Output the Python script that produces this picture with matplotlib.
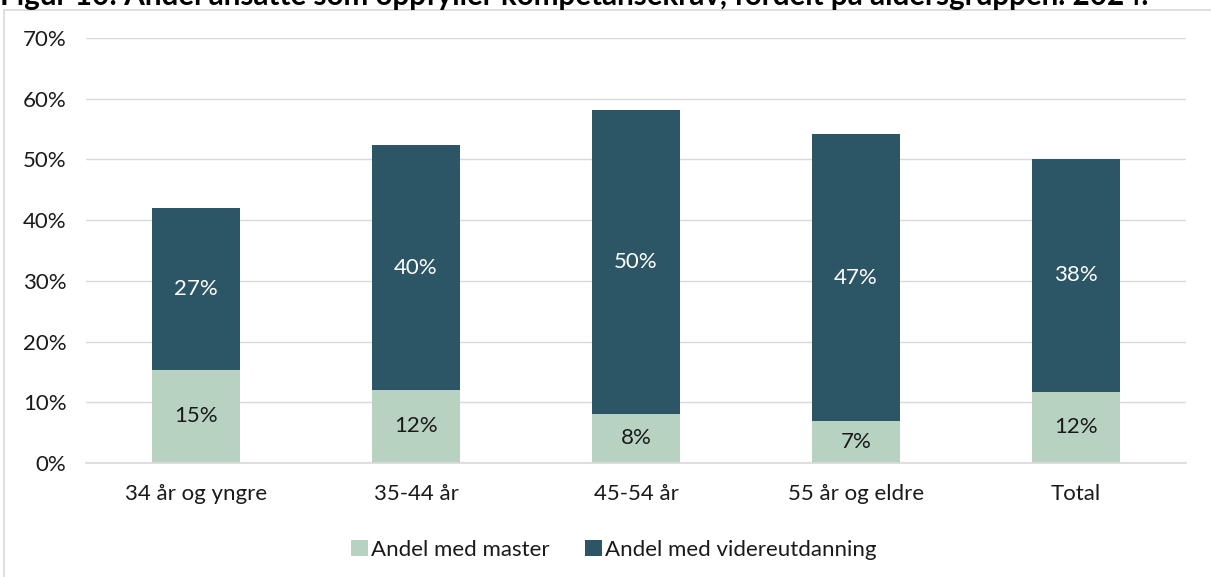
import matplotlib.pyplot as plt
import numpy as np
from matplotlib.patches import Rectangle
from matplotlib.ticker import PercentFormatter

plt.rcParams["font.family"] = ["Lato", "DejaVu Sans"]

# Data (percent)
categories = ["34 år og yngre", "35-44 år", "45-54 år", "55 år og eldre", "Total"]
master = [15.4, 12.1, 8.1, 6.9, 11.7]
videre = [26.6, 40.2, 50.1, 47.3, 38.4]
series_names = ["Andel med master", "Andel med videreutdanning"]
title = "Figur 10: Andel ansatte som oppfyller kompetansekrav, fordelt på aldersgruppen. 2024."

light = "#B7D2C0"
dark = "#2C5566"
fs = 16

fig = plt.figure(figsize=(12.11, 5.77), dpi=100)
ax = fig.add_axes([86 / 1211, 1 - 463 / 577, 1100 / 1211, 425 / 577])

x = np.arange(len(categories))
b1 = ax.bar(x, master, width=0.4, color=light, label=series_names[0], zorder=3)
b2 = ax.bar(x, videre, width=0.4, bottom=master, color=dark,
            label=series_names[1], zorder=3)

ax.bar_label(b1, labels=[f"{v:.0f}%" for v in master], label_type="center",
             color="#1a1a1a", fontsize=fs)
ax.bar_label(b2, labels=[f"{v:.0f}%" for v in videre], label_type="center",
             color="white", fontsize=fs)

ax.set_xlim(-0.5, len(categories) - 0.5)
ax.set_ylim(0, 70)
ax.set_yticks(np.arange(0, 71, 10))
ax.yaxis.set_major_formatter(PercentFormatter(decimals=0))
ax.set_xticks(x)
ax.set_xticklabels(categories)
ax.tick_params(axis="both", length=0, labelsize=fs, colors="#1a1a1a")
ax.tick_params(axis="x", pad=15)
ax.tick_params(axis="y", pad=14)

ax.grid(axis="y", color="#D9D9D9", linewidth=1, zorder=0)
for side in ["top", "right", "left"]:
    ax.spines[side].set_visible(False)
ax.spines["bottom"].set_color("#D9D9D9")
ax.spines["bottom"].set_linewidth(1.2)
ax.spines["bottom"].set_zorder(4)

fig.legend(loc="center", bbox_to_anchor=(614 / 1211, 1 - 550 / 577), ncol=2,
           frameon=False, fontsize=fs, handlelength=0.75, handleheight=0.75,
           handletextpad=0.15, columnspacing=1.6, labelcolor="#1a1a1a")

# Frame around chart area
fig.patches.append(Rectangle((4 / 1211, -0.05), 1.2, 1 - 10 / 577 + 0.05,
                             transform=fig.transFigure, fill=False,
                             edgecolor="#D9D9D9", linewidth=1.2))

# Title, cropped at the top in the reference
fig.text(0.0, 1 - 5 / 577, title, fontsize=21.3, fontweight="bold",
         color="black", va="baseline", ha="left")

fig.savefig("out.png", dpi=100)
